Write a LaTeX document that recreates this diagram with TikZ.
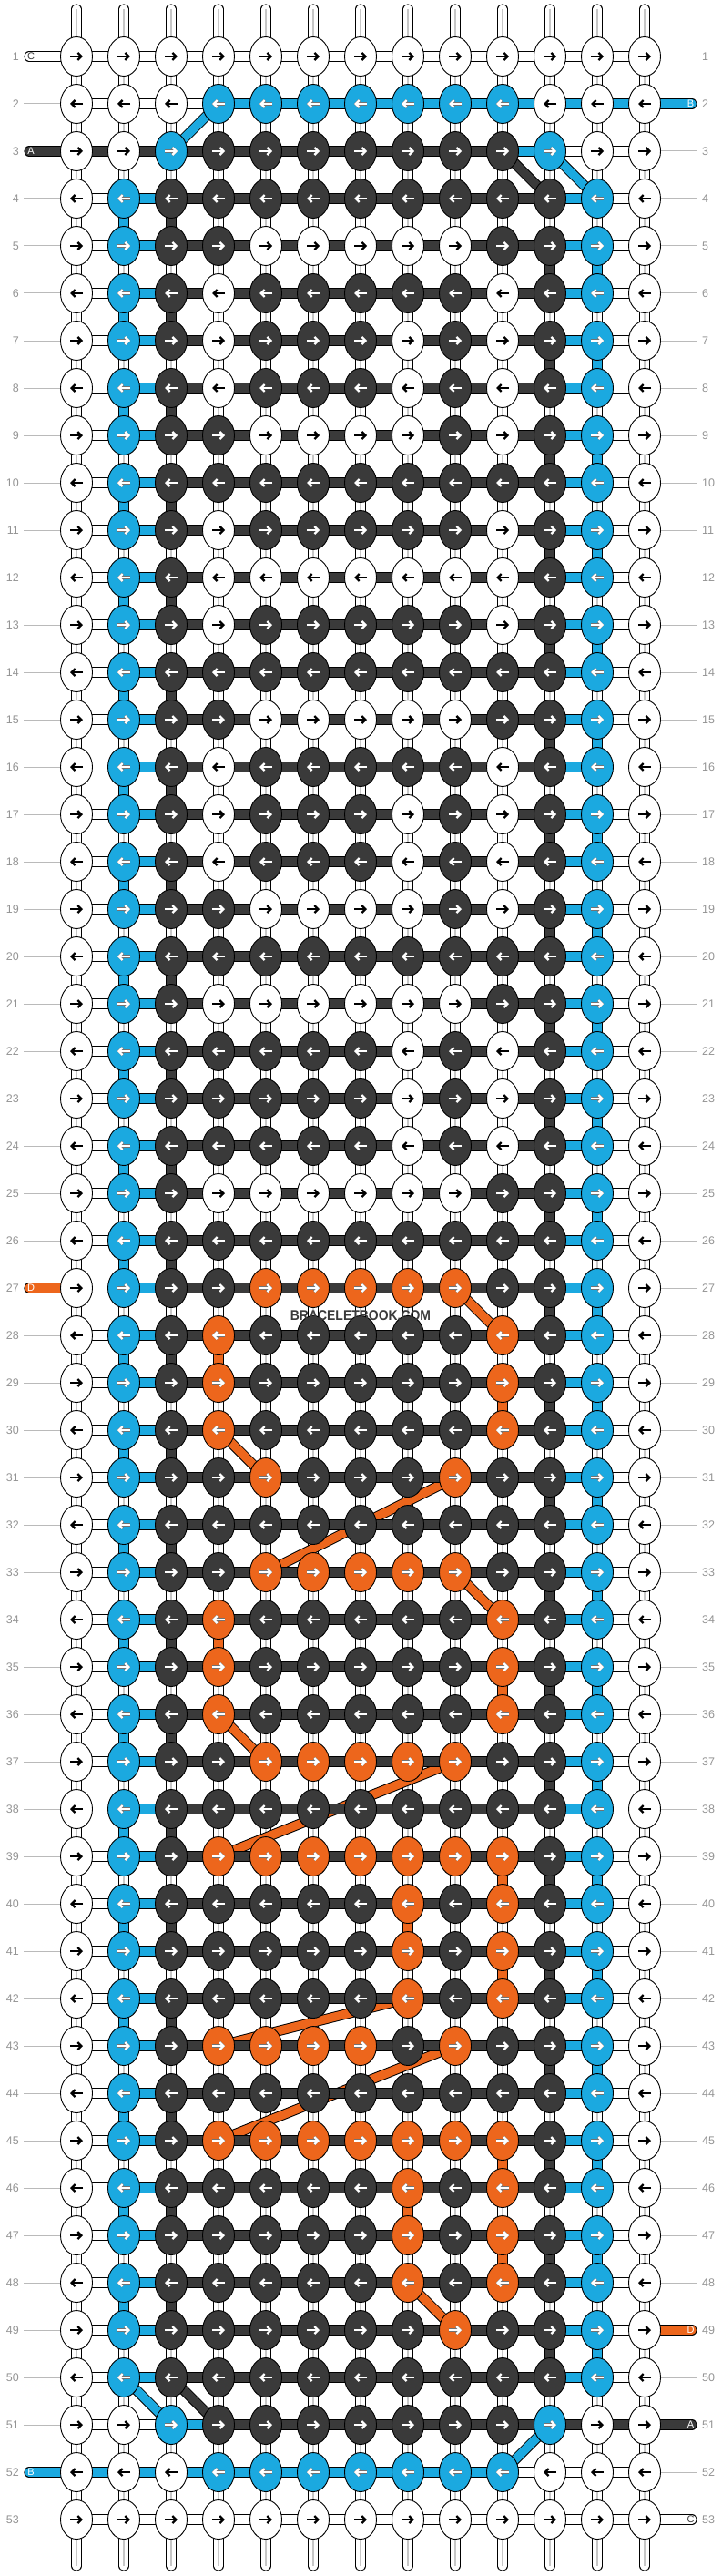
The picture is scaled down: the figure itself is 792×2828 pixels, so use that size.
\documentclass[tikz,border=0pt]{standalone}
\usepackage{fontspec}
\setmainfont{Liberation Sans}
\newfontfamily\brandfont[FakeStretch=0.9]{Liberation Sans}
\usetikzlibrary{arrows.meta, shapes.geometric}

\definecolor{w}{HTML}{FFFFFF}
\definecolor{b}{HTML}{1BA9E0}
\definecolor{k}{HTML}{3A3A3A}
\definecolor{o}{HTML}{ED661C}
\colorlet{tip-w}{black}
\colorlet{tip-b}{white}
\colorlet{tip-k}{white}
\colorlet{tip-o}{white}
\colorlet{edge-w}{white}
\colorlet{edge-b}{black!55}
\colorlet{edge-k}{k}
\colorlet{edge-o}{black!55}

\pgfdeclarelayer{verticals}
\pgfdeclarelayer{diagonals}
\pgfdeclarelayer{horizontals}
\pgfsetlayers{verticals,diagonals,horizontals,main}

\tikzset{
  knot/.style={ellipse, draw=black, line width=0.9pt, fill=#1, minimum width=35pt, minimum height=43pt, inner sep=0pt},
  thread/.style={line width=1pt, double=#1, double distance=9.3pt},
  stripe/.style={draw=black!22, line width=1.6pt},
  turn/.style={-{Straight Barb[length=4pt,width=8pt]}, line width=#1},
  guide/.style={draw=black!27, line width=1pt},
  rownum/.style={font=\fontsize{12.5}{14}\selectfont, text=black!42, inner xsep=5pt, inner ysep=0pt},
  leadtext/.style={font=\fontsize{11}{13}\selectfont, text=#1, inner sep=0pt},
  brand/.style={font=\brandfont\bfseries\fontsize{15.5}{17}\selectfont, text=k, inner sep=0pt}
}

\newcommand{\rowthreads}{%
  \foreach \col [count=\c] in \segs {
    \pgfmathtruncatemacro\d{\c+1}
    \draw[thread=\col] (k-\r-\c.center) -- (k-\r-\d.center);
  }%
}

\begin{document}
\begin{tikzpicture}[x=1pt, y=-1pt]
\useasboundingbox (0,0) rectangle (792,2828);

\foreach \row [count=\r] in {
  {w,w,w,w,w,w,w,w,w,w,w,w,w},
  {w,w,w,b,b,b,b,b,b,b,w,w,w},
  {w,w,b,k,k,k,k,k,k,k,b,w,w},
  {w,b,k,k,k,k,k,k,k,k,k,b,w},
  {w,b,k,k,w,w,w,w,w,k,k,b,w},
  {w,b,k,w,k,k,k,k,k,w,k,b,w},
  {w,b,k,w,k,k,k,w,k,w,k,b,w},
  {w,b,k,w,k,k,k,w,k,w,k,b,w},
  {w,b,k,k,w,w,w,w,k,w,k,b,w},
  {w,b,k,k,k,k,k,k,k,k,k,b,w},
  {w,b,k,w,k,k,k,k,k,w,k,b,w},
  {w,b,k,w,w,w,w,w,w,w,k,b,w},
  {w,b,k,w,k,k,k,k,k,w,k,b,w},
  {w,b,k,k,k,k,k,k,k,k,k,b,w},
  {w,b,k,k,w,w,w,w,w,k,k,b,w},
  {w,b,k,w,k,k,k,k,k,w,k,b,w},
  {w,b,k,w,k,k,k,w,k,w,k,b,w},
  {w,b,k,w,k,k,k,w,k,w,k,b,w},
  {w,b,k,k,w,w,w,w,k,w,k,b,w},
  {w,b,k,k,k,k,k,k,k,k,k,b,w},
  {w,b,k,w,w,w,w,w,w,k,k,b,w},
  {w,b,k,k,k,k,k,w,k,w,k,b,w},
  {w,b,k,k,k,k,k,w,k,w,k,b,w},
  {w,b,k,k,k,k,k,w,k,w,k,b,w},
  {w,b,k,w,w,w,w,w,w,k,k,b,w},
  {w,b,k,k,k,k,k,k,k,k,k,b,w},
  {w,b,k,k,o,o,o,o,o,k,k,b,w},
  {w,b,k,o,k,k,k,k,k,o,k,b,w},
  {w,b,k,o,k,k,k,k,k,o,k,b,w},
  {w,b,k,o,k,k,k,k,k,o,k,b,w},
  {w,b,k,k,o,k,k,k,o,k,k,b,w},
  {w,b,k,k,k,k,k,k,k,k,k,b,w},
  {w,b,k,k,o,o,o,o,o,k,k,b,w},
  {w,b,k,o,k,k,k,k,k,o,k,b,w},
  {w,b,k,o,k,k,k,k,k,o,k,b,w},
  {w,b,k,o,k,k,k,k,k,o,k,b,w},
  {w,b,k,k,o,o,o,o,o,k,k,b,w},
  {w,b,k,k,k,k,k,k,k,k,k,b,w},
  {w,b,k,o,o,o,o,o,o,o,k,b,w},
  {w,b,k,k,k,k,k,o,k,o,k,b,w},
  {w,b,k,k,k,k,k,o,k,o,k,b,w},
  {w,b,k,k,k,k,k,o,k,o,k,b,w},
  {w,b,k,o,o,o,o,k,o,k,k,b,w},
  {w,b,k,k,k,k,k,k,k,k,k,b,w},
  {w,b,k,o,o,o,o,o,o,o,k,b,w},
  {w,b,k,k,k,k,k,o,k,o,k,b,w},
  {w,b,k,k,k,k,k,o,k,o,k,b,w},
  {w,b,k,k,k,k,k,o,k,o,k,b,w},
  {w,b,k,k,k,k,k,k,o,k,k,b,w},
  {w,b,k,k,k,k,k,k,k,k,k,b,w},
  {w,w,b,k,k,k,k,k,k,k,b,w,w},
  {w,w,w,b,b,b,b,b,b,b,w,w,w},
  {w,w,w,w,w,w,w,w,w,w,w,w,w}} {
  \pgfmathtruncatemacro\dir{2*mod(\r,2)-1}
  \foreach \col [count=\c] in \row {
    \node[knot=\col] (k-\r-\c) at ({84+52*(\c-1)},{62+52*(\r-1)}) {};
    \draw[turn=3.2pt, edge-\col] ([xshift=\dir*-7.4pt]k-\r-\c.center) -- ([xshift=\dir*7.4pt]k-\r-\c.center);
    \draw[turn=2.3pt, tip-\col] ([xshift=\dir*-7pt]k-\r-\c.center) -- ([xshift=\dir*7pt]k-\r-\c.center);
  }
  \node[rownum, anchor=east] (nl-\r) at (26,{62+52*(\r-1)}) {\r};
  \node[rownum, anchor=west] (nr-\r) at (766,{62+52*(\r-1)}) {\r};
}

\foreach \c in {1,...,13} {
  \coordinate (t-\c) at ({84+52*(\c-1)},10);
  \coordinate (e-\c) at ({84+52*(\c-1)},2817);
}

\foreach \r/\c/\col in {28/4/o,34/4/o,29/10/o,35/10/o,39/10/o,41/10/o,45/10/o,47/10/o,40/8/o,46/8/o} {
  \expandafter\xdef\csname v-\r-\c\endcsname{\col}
}
\foreach \r in {4,6,...,48} {
  \expandafter\xdef\csname v-\r-2\endcsname{b}
  \expandafter\xdef\csname v-\r-3\endcsname{k}
}
\foreach \r in {5,7,...,49} {
  \expandafter\xdef\csname v-\r-11\endcsname{k}
  \expandafter\xdef\csname v-\r-12\endcsname{b}
}

\begin{pgfonlayer}{verticals}
\foreach \c in {1,...,13} {
  \draw[thread=w, line cap=round] (t-\c) -- (k-1-\c.center);
  \draw[stripe] (t-\c) -- (k-1-\c.center);
  \draw[thread=w, line cap=round] (e-\c) -- (k-53-\c.center);
  \draw[stripe] (e-\c) -- (k-53-\c.center);
}
\foreach \r in {1,...,52} {
  \pgfmathtruncatemacro\s{\r+1}
  \foreach \c in {1,...,13} {
    \ifcsname v-\r-\c\endcsname
      \edef\col{\csname v-\r-\c\endcsname}
      \draw[thread=\col] (k-\r-\c.center) -- (k-\s-\c.center);
    \else
      \draw[thread=w] (k-\r-\c.center) -- (k-\s-\c.center);
      \draw[stripe] (k-\r-\c.center) -- (k-\s-\c.center);
    \fi
  }
}
\end{pgfonlayer}

\begin{pgfonlayer}{diagonals}
\foreach \ra/\ca/\rb/\cb/\col in {
  2/4/3/3/b, 3/11/4/12/b, 50/2/51/3/b, 51/11/52/10/b,
  3/10/4/11/k, 50/3/51/4/k,
  27/9/28/10/o, 30/4/31/5/o, 31/9/33/5/o, 33/9/34/10/o, 36/4/37/5/o,
  37/9/39/4/o, 42/8/43/4/o, 43/9/45/4/o, 48/8/49/9/o} {
  \draw[thread=\col] (k-\ra-\ca.center) -- (k-\rb-\cb.center);
}
\end{pgfonlayer}

\begin{pgfonlayer}{horizontals}
\foreach \r/\segs in {
  1/{w,w,w,w,w,w,w,w,w,w,w,w},
  2/{w,w,w,b,b,b,b,b,b,b,b,b},
  3/{k,k,k,k,k,k,k,k,k,b,w,w},
  51/{w,w,b,k,k,k,k,k,k,k,k,k},
  52/{b,b,b,b,b,b,b,b,b,w,w,w},
  53/{w,w,w,w,w,w,w,w,w,w,w,w}} {
  \rowthreads
}
\foreach \r in {4,...,50} {
  \def\segs{w,b,k,k,k,k,k,k,k,k,b,w}
  \rowthreads
}
\foreach \r/\col in {1/w, 3/k, 27/o, 52/b} {
  \coordinate (el-\r) at (32,{62+52*(\r-1)});
  \draw[thread=\col, line cap=round] (el-\r) -- (k-\r-1.center);
}
\foreach \r/\col in {2/b, 49/o, 51/k, 53/w} {
  \coordinate (er-\r) at (760,{62+52*(\r-1)});
  \draw[thread=\col, line cap=round] (er-\r) -- (k-\r-13.center);
}
\end{pgfonlayer}

\foreach \r/\txt/\txtcol in {1/C/k, 3/A/white, 27/D/white, 52/B/white} {
  \node[leadtext=\txtcol] (ltl-\r) at (34,{62+52*(\r-1)}) {\txt};
}
\foreach \r/\txt/\txtcol in {2/B/white, 49/D/white, 51/A/white, 53/C/k} {
  \node[leadtext=\txtcol] (ltr-\r) at (758.5,{62+52*(\r-1)}) {\txt};
}

\foreach \r in {2,4,5,...,26,28,29,...,51,53} {
  \draw[guide] (nl-\r) -- (k-\r-1);
}
\foreach \r in {1,3,4,...,48,50,52} {
  \draw[guide] (k-\r-13) -- (nr-\r);
}

\node[brand] (mark) at (396,1444) {BRACELETBOOK.COM};

\end{tikzpicture}
\end{document}
